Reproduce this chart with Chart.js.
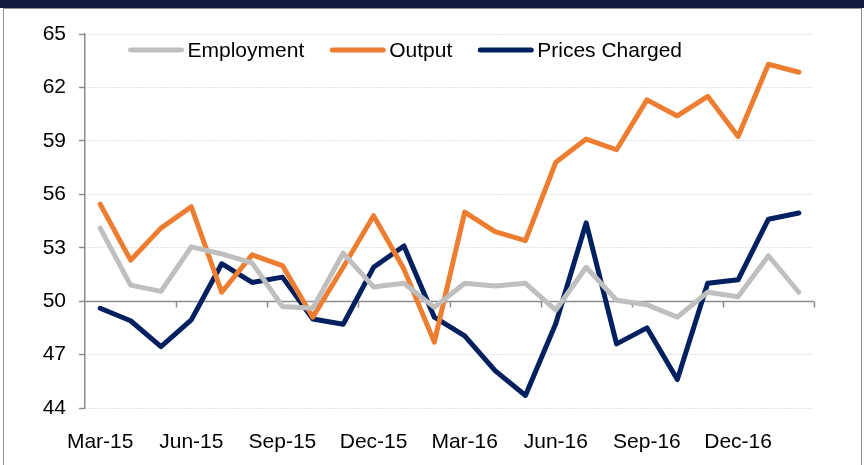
<!DOCTYPE html>
<html>
<head>
<meta charset="utf-8">
<script src="https://cdn.jsdelivr.net/npm/chart.js@4"></script>
<style>
  html, body { margin: 0; padding: 0; background: #fff; }
  #bar { position: absolute; left: 0; top: 0; width: 864px; height: 8px; background: #141b43; }
  #frame { position: absolute; left: 3px; top: 8px; width: 857px; height: 470px; border: 1.5px solid #8f8f8f; }
  #wrap { position: absolute; left: 0; top: 0; width: 864px; height: 465px; }
</style>
</head>
<body>
<div id="bar"></div>
<div id="frame"></div>
<div id="wrap"><canvas id="pmi"></canvas></div>
<script>
// monthly survey readings, Mar-15 .. Feb-17
const months = ['Mar-15','Apr-15','May-15','Jun-15','Jul-15','Aug-15','Sep-15','Oct-15','Nov-15','Dec-15','Jan-16','Feb-16',
                'Mar-16','Apr-16','May-16','Jun-16','Jul-16','Aug-16','Sep-16','Oct-16','Nov-16','Dec-16','Jan-17','Feb-17'];
const employment = [54.1, 50.9, 50.55, 53.05, 52.65, 52.15, 49.7, 49.6, 52.7, 50.8, 51.0, 49.65,
                    51.0, 50.85, 51.0, 49.5, 51.9, 50.05, 49.8, 49.1, 50.5, 50.25, 52.55, 50.5];
const output = [55.45, 52.3, 54.1, 55.3, 50.5, 52.6, 52.0, 49.1, 51.9, 54.8, 51.8, 47.7,
                55.0, 53.9, 53.4, 57.8, 59.1, 58.5, 61.3, 60.4, 61.5, 59.25, 63.3, 62.85];
const pricesCharged = [49.6, 48.9, 47.45, 48.95, 52.1, 51.05, 51.35, 49.0, 48.7, 51.9, 53.1, 49.1,
                       48.05, 46.1, 44.7, 48.75, 54.4, 47.6, 48.5, 45.6, 51.0, 51.2, 54.6, 54.95];
const yTicks = [44, 47, 50, 53, 56, 59, 62, 65];

const FONT = 'Liberation Sans, Arial, sans-serif';
const axisGray = '#8c8c8c';

// the 50 line acts as the horizontal axis, with tick marks every quarter
const midLine = {
  id: 'midLine',
  beforeDatasetsDraw(chart) {
    const {ctx, chartArea, scales: {x, y}} = chart;
    const yy = Math.round(y.getPixelForValue(50)) + 0.5;
    const half = (x.getPixelForValue(1) - x.getPixelForValue(0)) / 2;
    ctx.save();
    ctx.strokeStyle = axisGray;
    ctx.lineWidth = 1.5;
    ctx.beginPath();
    ctx.moveTo(chartArea.left, yy);
    ctx.lineTo(chartArea.right, yy);
    for (let i = 3; i <= months.length; i += 3) {
      const xx = Math.round(x.getPixelForValue(i) - half) + 0.5;
      ctx.moveTo(xx, yy);
      ctx.lineTo(xx, yy + 6);
    }
    ctx.stroke();
    ctx.restore();
  }
};

// legend drawn inside the plot, Excel style
const insideLegend = {
  id: 'insideLegend',
  afterDraw(chart) {
    const ctx = chart.ctx;
    let xx = 130.5;
    const yy = 50;
    ctx.save();
    ctx.font = '21px ' + FONT;
    ctx.textBaseline = 'middle';
    chart.data.datasets.forEach(ds => {
      ctx.strokeStyle = ds.borderColor;
      ctx.lineWidth = 5;
      ctx.lineCap = 'round';
      ctx.beginPath();
      ctx.moveTo(xx, yy);
      ctx.lineTo(xx + 51, yy);
      ctx.stroke();
      ctx.fillStyle = '#000';
      ctx.fillText(ds.label, xx + 57, yy + 1);
      xx += 57 + ctx.measureText(ds.label).width + 28;
    });
    ctx.restore();
  }
};

const el = document.getElementById('pmi').getContext('2d');

let lineChart = new Chart(el, {
  type: 'line',
  data: {
    labels: months,
    datasets: [
      { label: 'Employment', data: employment, borderColor: '#bfbfbf' },
      { label: 'Output', data: output, borderColor: '#ed7d31' },
      { label: 'Prices Charged', data: pricesCharged, borderColor: '#002060' }
    ]
  },
  options: {
    responsive: true,
    maintainAspectRatio: false,
    animation: false,
    layout: { padding: { left: 0, right: 50, top: 34, bottom: 0 } },
    elements: {
      line: { borderWidth: 5, tension: 0, borderJoinStyle: 'round', borderCapStyle: 'round', fill: false },
      point: { radius: 0, hoverRadius: 0 }
    },
    plugins: {
      legend: { display: false },
      tooltip: { enabled: false }
    },
    scales: {
      x: {
        type: 'category',
        offset: true,
        grid: { display: false, offset: true },
        border: { display: false },
        ticks: {
          autoSkip: false,
          maxRotation: 0,
          padding: 14,
          color: '#000',
          font: { family: FONT, size: 21 },
          callback: function(val, i) { return i % 3 === 0 ? months[i] : ''; }
        },
        afterFit: s => { s.height = 57; }
      },
      y: {
        min: yTicks[0],
        max: yTicks[yTicks.length - 1],
        afterBuildTicks: s => { s.ticks = yTicks.map(v => ({ value: v })); },
        grid: {
          color: c => (c.tick && c.tick.value === 50) ? 'rgba(0,0,0,0)' : '#c8c8c8',
          lineWidth: 1,
          tickLength: 6,
          tickColor: axisGray,
          tickWidth: 1.5,
          tickBorderDash: []
        },
        border: { display: true, color: axisGray, width: 1.5, dash: [1, 2] },
        ticks: {
          padding: 13,
          color: '#000',
          font: { family: FONT, size: 21 }
        },
        afterFit: s => { s.width = 85; }
      }
    }
  },
  plugins: [midLine, insideLegend]
});
</script>
</body>
</html>
